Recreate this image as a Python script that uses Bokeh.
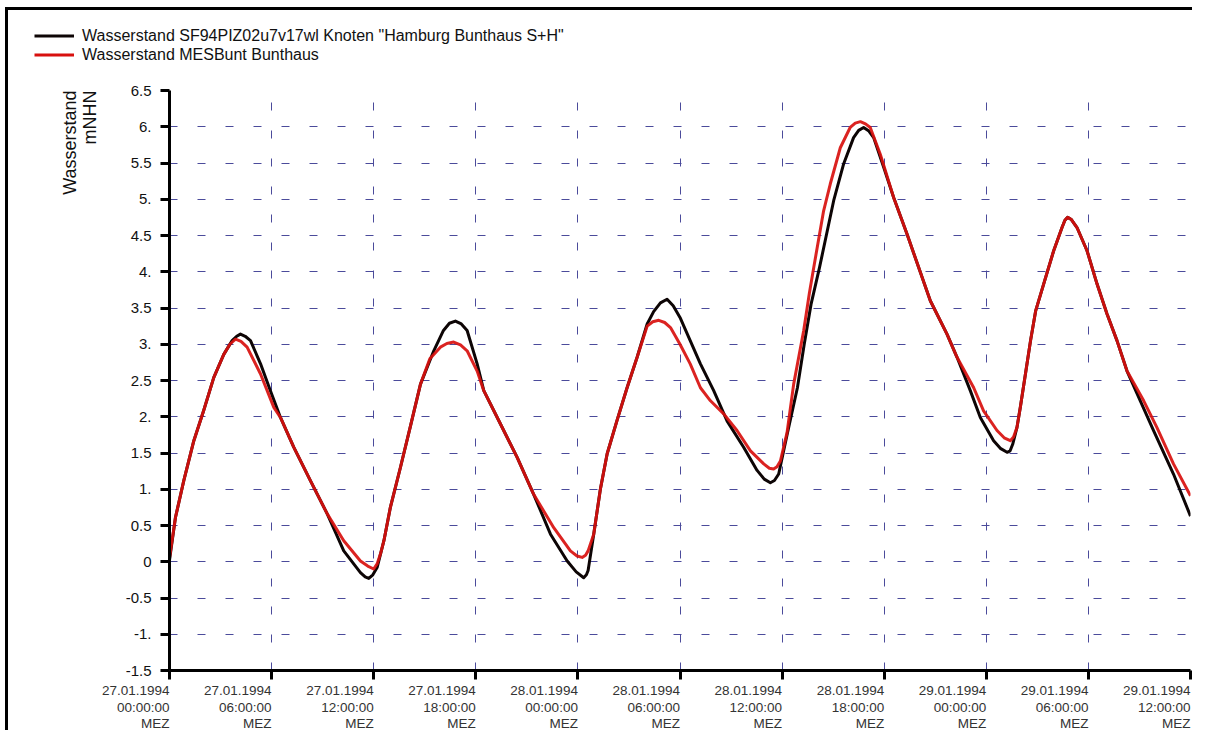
from bokeh.plotting import figure
from bokeh.layouts import column, row
from bokeh.core.properties import value
from bokeh.models import (Range1d, FixedTicker, Legend, LegendItem, Label, LabelSet,
                          ColumnDataSource)
from bokeh.embed import file_html
from bokeh.resources import INLINE

# hours since 27.01.1994 00:00 MEZ
hours_sf94 = [0.0, 0.35, 0.84, 1.43, 2.0, 2.6, 3.19, 3.68, 3.95, 4.17, 4.45, 4.76, 5.35, 5.93, 6.52,
              7.3, 8.28, 9.27, 10.24, 11.22, 11.5, 11.71, 11.95, 12.2, 12.6, 12.98, 13.57, 14.16,
              14.75, 15.53, 16.1, 16.45, 16.8, 17.15, 17.49, 18.08, 18.47, 19.45, 20.43, 21.4, 22.39,
              23.37, 23.9, 24.34, 24.5, 24.6, 24.93, 25.32, 25.72, 26.3, 26.89, 27.48, 28.07, 28.45,
              28.85, 29.24, 29.6, 30.0, 30.6, 31.2, 31.98, 32.77, 33.74, 34.53, 34.95, 35.31, 35.55,
              35.8, 36.29, 36.9, 37.3, 37.7, 38.2, 39.03, 39.62, 40.2, 40.5, 40.79, 41.1, 41.38,
              41.97, 42.56, 43.34, 44.71, 45.69, 46.28, 47.06, 47.65, 48.43, 48.85, 49.22, 49.4,
              49.55, 49.8, 50.0, 50.3, 50.6, 50.9, 51.37, 51.96, 52.45, 52.62, 52.78, 53.0, 53.33,
              53.92, 54.51, 55.09, 55.68, 56.27, 57.05, 57.83, 59.0, 60.0]
level_sf94 = [0.02, 0.61, 1.12, 1.67, 2.08, 2.54, 2.86, 3.05, 3.11, 3.14, 3.11, 3.05, 2.73, 2.36, 1.99,
              1.58, 1.12, 0.66, 0.15, -0.15, -0.21, -0.23, -0.18, -0.08, 0.29, 0.75, 1.3, 1.87,
              2.45, 2.91, 3.19, 3.29, 3.32, 3.28, 3.19, 2.73, 2.36, 1.9, 1.44, 0.93, 0.38,
              0.01, -0.14, -0.22, -0.18, -0.12, 0.38, 1.0, 1.49, 1.95, 2.4, 2.82, 3.28, 3.45,
              3.57, 3.62, 3.53, 3.37, 3.05, 2.73, 2.36, 1.94, 1.58, 1.26, 1.14, 1.09, 1.12,
              1.21, 1.75, 2.4, 3.0, 3.55, 4.06, 4.98, 5.49, 5.85, 5.95, 5.99, 5.94, 5.85,
              5.44, 5.02, 4.52, 3.6, 3.14, 2.82, 2.36, 1.99, 1.67, 1.56, 1.51, 1.53,
              1.62, 1.85, 2.13, 2.59, 3.05, 3.46, 3.83, 4.29, 4.61, 4.71, 4.75, 4.72, 4.61,
              4.29, 3.83, 3.42, 3.05, 2.63, 2.22, 1.81, 1.21, 0.63]

hours_mes = [0.0, 0.35, 0.84, 1.43, 2.0, 2.6, 3.19, 3.55, 3.88, 4.2, 4.56, 5.35, 6.13, 6.52, 7.3,
             8.28, 9.27, 10.24, 11.22, 11.65, 12.0, 12.2, 12.4, 12.6, 12.98, 13.57, 14.16, 14.75,
             15.3, 15.92, 16.3, 16.7, 17.1, 17.49, 18.08, 18.47, 19.45, 20.43, 21.4, 22.58, 23.56,
             23.95, 24.25, 24.45, 24.6, 24.93, 25.32, 25.72, 26.3, 26.89, 27.48, 28.07, 28.4, 28.75,
             29.1, 29.44, 30.0, 30.6, 31.2, 31.79, 32.57, 33.35, 34.14, 34.92, 35.25, 35.5, 35.7,
             35.9, 36.29, 36.68, 37.27, 37.6, 37.86, 38.44, 38.83, 39.42, 40.0, 40.3, 40.6, 40.9,
             41.18, 41.77, 42.56, 43.34, 44.71, 45.69, 46.28, 47.26, 47.84, 48.63, 49.05, 49.41,
             49.6, 49.8, 50.0, 50.3, 50.6, 50.9, 51.37, 51.96, 52.45, 52.62, 52.78, 53.0, 53.33,
             53.92, 54.51, 55.09, 55.68, 56.27, 57.25, 58.03, 59.0, 60.0]
level_mes = [0.05, 0.61, 1.12, 1.67, 2.08, 2.54, 2.86, 3.0, 3.07, 3.04, 2.96, 2.59, 2.13, 1.99, 1.58,
             1.12, 0.66, 0.29, 0.01, -0.06, -0.1, -0.03, 0.11, 0.29, 0.75, 1.3, 1.87, 2.45,
             2.8, 2.96, 3.01, 3.03, 2.99, 2.91, 2.63, 2.36, 1.9, 1.44, 0.93, 0.47, 0.15,
             0.08, 0.06, 0.09, 0.15, 0.38, 1.0, 1.49, 1.95, 2.4, 2.82, 3.25, 3.31, 3.33,
             3.3, 3.23, 3.0, 2.73, 2.4, 2.22, 2.04, 1.81, 1.53, 1.35, 1.29, 1.28, 1.31,
             1.39, 1.78, 2.45, 3.19, 3.7, 4.06, 4.84, 5.21, 5.71, 5.99, 6.05, 6.07, 6.04,
             5.99, 5.62, 5.02, 4.52, 3.6, 3.14, 2.82, 2.4, 2.08, 1.81, 1.71, 1.67,
             1.72, 1.85, 2.13, 2.59, 3.05, 3.46, 3.83, 4.29, 4.61, 4.71, 4.75, 4.72, 4.61,
             4.29, 3.83, 3.42, 3.05, 2.63, 2.22, 1.85, 1.35, 0.91]

series_names = ['Wasserstand SF94PIZ02u7v17wl Knoten "Hamburg Bunthaus S+H"',
                "Wasserstand MESBunt Bunthaus"]
series_colors = ["#0d0505", "#d8100e"]

x_ticks = [0, 6, 12, 18, 24, 30, 36, 42, 48, 54, 60]
x_tick_dates = ["27.01.1994", "27.01.1994", "27.01.1994", "27.01.1994", "28.01.1994", "28.01.1994",
                "28.01.1994", "28.01.1994", "29.01.1994", "29.01.1994", "29.01.1994"]
x_tick_times = ["00:00:00", "06:00:00", "12:00:00", "18:00:00", "00:00:00", "06:00:00",
                "12:00:00", "18:00:00", "00:00:00", "06:00:00", "12:00:00"]
x_tick_zone = ["MEZ"] * 11
y_ticks = [-1.5, -1.0, -0.5, 0.0, 0.5, 1.0, 1.5, 2.0, 2.5, 3.0, 3.5, 4.0, 4.5, 5.0, 5.5, 6.0, 6.5]
y_tick_labels = ["-1.5", "-1.", "-0.5", "0", "0.5", "1.", "1.5", "2.", "2.5", "3.", "3.5", "4.",
                 "4.5", "5.", "5.5", "6.", "6.5"]
y_title = ["Wasserstand", "mNHN"]

FONT = "Liberation Sans"
X0, X1 = 0, 60
W = 1192
HEAD_H = 82
STRIP_W = 115
FRAME_L, FRAME_R = 169, 1190
MAIN_TOP, FRAME_H, MAIN_BOTTOM = 8, 580, 10
MAIN_H = MAIN_TOP + FRAME_H + MAIN_BOTTOM
FOOT_H = 730 - HEAD_H - MAIN_H


def bare_strip(width, height, x_range=None):
    fig = figure(width=width, height=height, output_backend="svg", toolbar_location=None,
                 x_range=x_range or Range1d(0, 1), y_range=Range1d(0, 1),
                 x_axis_location=None, y_axis_location=None,
                 min_border_left=0, min_border_right=0, min_border_top=0, min_border_bottom=0)
    if "frame_align" in fig.properties():
        fig.frame_align = False
    fig.grid.visible = False
    fig.outline_line_color = None
    fig.border_fill_color = None
    fig.background_fill_color = None
    return fig


# ---------- header strip holding the legend ----------
head = bare_strip(W, HEAD_H)
proxy_sf94 = head.line(hours_sf94, level_sf94, line_color=series_colors[0], line_width=3,
                       visible=False)
proxy_mes = head.line(hours_mes, level_mes, line_color=series_colors[1], line_width=3,
                      visible=False)
legend = Legend(items=[LegendItem(label=series_names[0], renderers=[proxy_sf94]),
                       LegendItem(label=series_names[1], renderers=[proxy_mes])],
                location=(34, 18), border_line_color=None, background_fill_alpha=0,
                padding=0, margin=0, spacing=0, glyph_width=40, glyph_height=19,
                label_height=19, label_standoff=8, label_text_font=FONT,
                label_text_font_size="16px", label_text_color="#111111",
                inactive_fill_alpha=0)
head.add_layout(legend)

# ---------- left strip with the two-line axis title ----------
side = bare_strip(STRIP_W, MAIN_H)
for txt, bx in ((y_title[0], 69), (y_title[1], 89)):
    side.add_layout(Label(x=bx, y=MAIN_H - MAIN_TOP, x_units="screen", y_units="screen",
                          text=txt, angle=90, angle_units="deg", text_align="right",
                          text_baseline="alphabetic", text_font=FONT, text_font_size="18px",
                          text_color="#111111"))

# ---------- main chart ----------
p = figure(width=W - STRIP_W, height=MAIN_H, output_backend="svg", toolbar_location=None,
           x_range=Range1d(X0, X1), y_range=Range1d(-1.5, 6.5),
           min_border_left=FRAME_L - STRIP_W, min_border_right=W - FRAME_R,
           min_border_top=MAIN_TOP, min_border_bottom=MAIN_BOTTOM)
p.outline_line_color = None
p.border_fill_color = None
p.background_fill_color = "white"

xt = FixedTicker(ticks=x_ticks)
yt = FixedTicker(ticks=y_ticks)
p.xaxis.ticker = xt
p.yaxis.ticker = yt
p.xgrid.ticker = xt
p.ygrid.ticker = yt
p.yaxis.major_label_overrides = dict(zip(y_ticks, y_tick_labels))

for ax in (p.xaxis, p.yaxis):
    ax.axis_line_color = "black"
    ax.axis_line_width = 3
    ax.major_tick_line_color = "black"
    ax.major_tick_line_width = 3
    ax.major_tick_out = 9
    ax.major_tick_in = 0
    ax.minor_tick_line_color = None
    ax.major_label_text_font = FONT

p.xaxis.major_label_text_color = None
p.xaxis.major_label_text_font_size = "0px"
p.xaxis.major_label_standoff = 0
p.yaxis.major_label_text_font_size = "15px"
p.yaxis.major_label_text_color = "#111111"
p.yaxis.major_label_standoff = 9

p.grid.grid_line_color = "#4b4b9b"
p.grid.grid_line_width = 1
p.grid.grid_line_dash = "8 20"

p.line(hours_sf94, level_sf94, line_color=series_colors[0], line_width=3, line_join="round")
p.line(hours_mes, level_mes, line_color=series_colors[1], line_width=3, line_alpha=0.92,
       line_join="round")

# ---------- footer strip with right-aligned tick label rows ----------
px_per_hour = (FRAME_R - FRAME_L) / (X1 - X0)
foot = bare_strip(W, FOOT_H, Range1d(X0 - FRAME_L / px_per_hour,
                                     X1 + (W - FRAME_R) / px_per_hour))
tick_src = ColumnDataSource(dict(x=x_ticks, date=x_tick_dates, time=x_tick_times,
                                 zone=x_tick_zone))
for field, row_y in (("date", FOOT_H - 10), ("time", FOOT_H - 26.5), ("zone", FOOT_H - 42.5)):
    foot.add_layout(LabelSet(source=tick_src, x="x", y=row_y, y_units="screen", text=field,
                             text_align="right", text_baseline="middle",
                             text_font=value(FONT), text_font_size=value("13.5px"),
                             text_color="#333333"))

page = column(head, row(side, p, spacing=0), foot, spacing=0)
page.styles = {
    "background-image": "linear-gradient(#000,#000), linear-gradient(#000,#000)",
    "background-size": "1400px 3px, 3px 900px",
    "background-position": "5px 7px, 5px 7px",
    "background-repeat": "no-repeat",
}

open("out.html", "w").write(file_html(page, INLINE))
